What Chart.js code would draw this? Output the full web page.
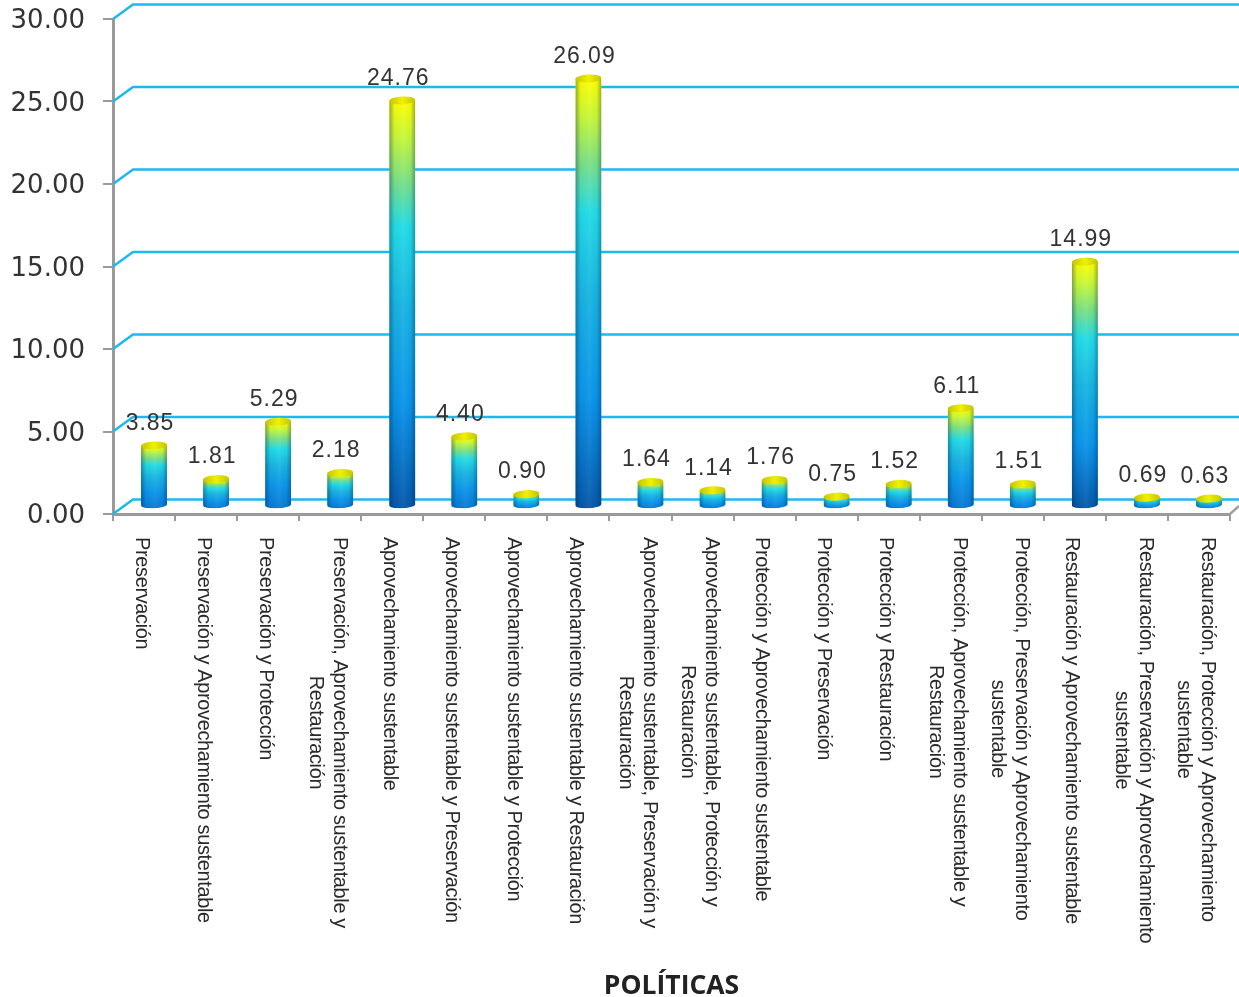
<!DOCTYPE html>
<html>
<head>
<meta charset="utf-8">
<title>Políticas</title>
<script src="https://cdn.jsdelivr.net/npm/chart.js@4/dist/chart.umd.min.js"></script>
<style>
  html, body { margin: 0; padding: 0; background: #fff; }
  canvas { display: block; }
</style>
</head>
<body>
<canvas id="chart" width="1239" height="997"></canvas>
<script>
const categories = [
  ["Preservación"],
  ["Preservación y Aprovechamiento sustentable"],
  ["Preservación y Protección"],
  ["Preservación, Aprovechamiento sustentable y", "Restauración"],
  ["Aprovechamiento sustentable"],
  ["Aprovechamiento sustentable y Preservación"],
  ["Aprovechamiento sustentable y Protección"],
  ["Aprovechamiento sustentable y Restauración"],
  ["Aprovechamiento sustentable, Preservación y", "Restauración"],
  ["Aprovechamiento sustentable, Protección y", "Restauración"],
  ["Protección y Aprovechamiento sustentable"],
  ["Protección y Preservación"],
  ["Protección y Restauración"],
  ["Protección, Aprovechamiento sustentable y", "Restauración"],
  ["Protección, Preservación y Aprovechamiento", "sustentable"],
  ["Restauración y Aprovechamiento sustentable"],
  ["Restauración, Preservación y Aprovechamiento", "sustentable"],
  ["Restauración, Protección y Aprovechamiento", "sustentable"],
];
const values = [3.85, 1.81, 5.29, 2.18, 24.76, 4.40, 0.90, 26.09, 1.64, 1.14, 1.76, 0.75, 1.52, 6.11, 1.51, 14.99, 0.69, 0.63];

// the pseudo 3d look: back wall and bars are the real scale pixels shifted by these
const wallDx = 20, wallDy = -14.5;
const barDx = 10, barDy = -5;
const capRy = 4;

const barGradient = (ctx) => {
  const { chart, raw } = ctx;
  const y = chart.scales.y;
  const top = y ? y.getPixelForValue(raw) : NaN;
  const bottom = y ? y.getPixelForValue(0) : NaN;
  if (!Number.isFinite(top) || !Number.isFinite(bottom)) return "#0a96e4";
  const g = chart.ctx.createLinearGradient(0, top, 0, bottom);
  g.addColorStop(0, "#ffff00");
  g.addColorStop(0.09, "#c8f838");
  g.addColorStop(0.2, "#78e088");
  g.addColorStop(0.31, "#22dce6");
  g.addColorStop(0.5, "#18b4e2");
  g.addColorStop(0.74, "#0a94ea");
  // short bars never reach the dark blue
  g.addColorStop(1, raw < 8 ? "#0a78d0" : "#0458a8");
  return g;
};

const fake3d = {
  id: "fake3d",
  beforeDatasetsDraw(chart) {
    const { ctx, scales: { y }, chartArea } = chart;
    ctx.save();
    // back wall lines
    ctx.strokeStyle = "#1cb8f0";
    ctx.lineWidth = 2.5;
    for (const t of y.ticks) {
      const py = y.getPixelForValue(t.value);
      ctx.beginPath();
      ctx.moveTo(chartArea.left, py);
      ctx.lineTo(chartArea.left + wallDx, py + wallDy);
      ctx.lineTo(1239, py + wallDy);
      ctx.stroke();
    }
    // floor edge at the right
    ctx.strokeStyle = "#a0a0a0";
    ctx.beginPath();
    ctx.moveTo(chartArea.right, chartArea.bottom);
    ctx.lineTo(1239, chartArea.bottom - 8);
    ctx.stroke();
    ctx.restore();
  },
  beforeDatasetDraw(chart, args) {
    const { ctx } = chart;
    ctx.save();
    ctx.translate(barDx, barDy);
    // round off the feet of the bars
    ctx.beginPath();
    args.meta.data.forEach((bar) => {
      const hw = bar.width / 2;
      ctx.rect(bar.x - hw, 0, bar.width, bar.base - 3.5);
      ctx.ellipse(bar.x, bar.base - 3.5, hw, capRy, -0.05, 0, Math.PI * 2);
    });
    ctx.clip();
  },
  afterDatasetDraw(chart, args) {
    const { ctx } = chart;
    args.meta.data.forEach((bar) => {
      const hw = bar.width / 2;
      // side shading
      const shade = ctx.createLinearGradient(bar.x - hw, 0, bar.x + hw, 0);
      shade.addColorStop(0, "rgba(0,30,70,0.38)");
      shade.addColorStop(0.2, "rgba(0,30,70,0.03)");
      shade.addColorStop(0.55, "rgba(255,255,255,0.05)");
      shade.addColorStop(0.82, "rgba(0,30,70,0.03)");
      shade.addColorStop(1, "rgba(0,30,70,0.36)");
      ctx.fillStyle = shade;
      ctx.fillRect(bar.x - hw, bar.y, bar.width, bar.base - bar.y);
      // top cap
      const cap = ctx.createLinearGradient(bar.x - hw, 0, bar.x + hw, 0);
      cap.addColorStop(0, "#c4c400");
      cap.addColorStop(0.5, "#f0f000");
      cap.addColorStop(1, "#c4c400");
      ctx.fillStyle = cap;
      ctx.beginPath();
      ctx.ellipse(bar.x, bar.y, hw, capRy, -0.05, 0, Math.PI * 2);
      ctx.fill();
    });
    ctx.restore();
  },
  afterDatasetsDraw(chart) {
    const { ctx, scales: { x, y } } = chart;
    ctx.save();
    // values above the bars
    ctx.font = "23px 'Liberation Sans'";
    ctx.fillStyle = "#333";
    ctx.textAlign = "center";
    ctx.textBaseline = "middle";
    ctx.letterSpacing = "1px";
    values.forEach((v, i) => {
      ctx.fillText(v.toFixed(2), x.getPixelForTick(i) + 6, y.getPixelForValue(v) - 27);
    });
    // category labels, reading downwards
    ctx.font = "20px 'Liberation Sans'";
    ctx.fillStyle = "#2a2a2a";
    ctx.letterSpacing = "-0.37px";
    ctx.textAlign = "left";
    categories.forEach((lines, i) => {
      const px = x.getPixelForTick(i) - 3 + (lines.length - 1) * 12;
      const widest = Math.max(...lines.map((l) => ctx.measureText(l).width));
      ctx.save();
      ctx.translate(px, 537);
      ctx.rotate(Math.PI / 2);
      lines.forEach((l, n) => {
        ctx.fillText(l, (widest - ctx.measureText(l).width) / 2, n * 24);
      });
      ctx.restore();
    });
    ctx.restore();
  },
};

const chart = new Chart(document.getElementById("chart"), {
  type: "bar",
  data: {
    labels: categories.map((c) => c.join(" ")),
    datasets: [{ data: values, barThickness: 26, backgroundColor: barGradient, borderWidth: 0 }],
  },
  options: {
    responsive: false,
    animation: false,
    layout: { padding: { top: 0, right: 9, left: 0, bottom: 0 } },
    plugins: { legend: { display: false }, tooltip: { enabled: false } },
    scales: {
      x: {
        afterFit: (s) => { s.height = 483; },
        ticks: { display: false },
        grid: { drawOnChartArea: false, tickLength: 7, color: "#9a9a9a", lineWidth: 2 },
        border: { color: "#9a9a9a", width: 3 },
        title: {
          display: true,
          text: "POLÍTICAS",
          color: "#222",
          font: { family: "'Open Sans'", size: 26.5, weight: "bold" },
          padding: { top: 0, bottom: -5 },
        },
      },
      y: {
        min: 0,
        max: 30,
        afterFit: (s) => { s.width = 113; s.paddingTop = 19; s.paddingBottom = 0; },
        ticks: {
          stepSize: 5,
          padding: 18,
          labelOffset: 2.5,
          color: "#333",
          font: { family: "'DejaVu Sans'", size: 26 },
          callback: (v) => v.toFixed(2),
        },
        grid: { drawOnChartArea: false, tickLength: 10, color: "#9a9a9a", lineWidth: 2 },
        border: { color: "#9a9a9a", width: 3 },
      },
    },
  },
  plugins: [fake3d],
});
chart.update();
</script>
</body>
</html>
